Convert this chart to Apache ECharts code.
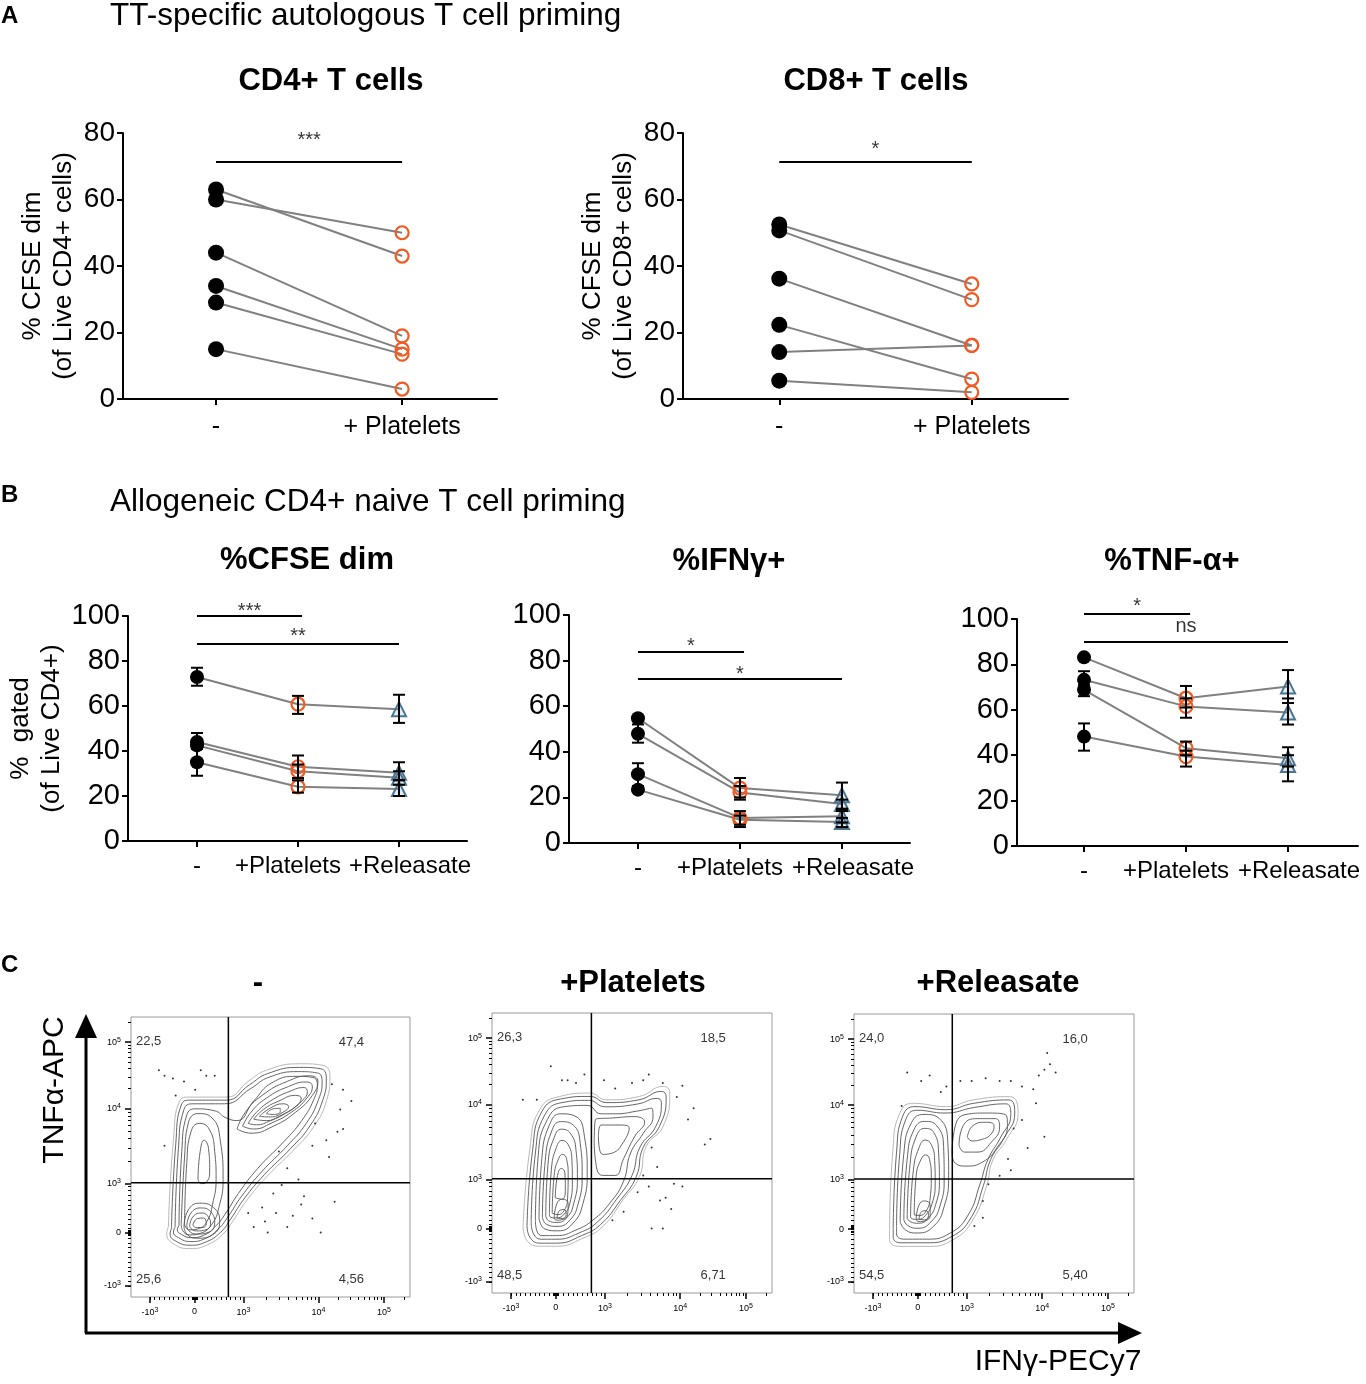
<!DOCTYPE html>
<html>
<head>
<meta charset="utf-8">
<script src="https://cdn.jsdelivr.net/npm/echarts@6/dist/echarts.min.js"></script>
<style>
    html, body {margin: 0; padding: 0; background: #fff;}
    #main {width: 1366px; height: 1384px;}
</style>
</head>
<body>
<div id="main"></div>
<script>
var FONT = 'Liberation Sans, Arial, Helvetica, sans-serif';
var ORANGE = '#f15a22';
var TEAL = '#4a7590';
var GRAY = '#808080';

// panel A: paired values (one entry per donor)
var catsA = ['-', '+ Platelets'];
var cd4Pre = [63, 60, 44, 34, 29, 15];
var cd4Post = [43, 50, 19, 15, 13.5, 3];
var cd8Pre = [52.5, 50.7, 36.2, 22.3, 14.1, 5.5];
var cd8Post = [34.6, 29.9, 16.1, 6, 16.1, 2];
var sigCd4 = [[0, 1, 71.3, '***', 79.4]];
var sigCd8 = [[0, 1, 71.3, '*', 76.4]];

// panel B: per donor [-, +Platelets, +Releasate], errors [low, high]
var catsB = ['-', '+Platelets', '+Releasate'];
var cfseVals = [[72.9, 60.8, 58.6], [44, 33, 30.3], [42.5, 31, 28.1], [35, 24.1, 23.1]];
var cfseErr = [[[69, 77], [56.5, 64.5], [52.5, 65]], [[41, 48], [28, 38], [27, 35]],
    [null, [28, 34], [25, 31]], [[29, 41], [21.5, 27], [20, 27]]];
var ifnVals = [[54.7, 24.1, 20.9], [47.9, 22.2, 17.1], [30.2, 11, 11.7], [23.4, 10.2, 9.2]];
var ifnErr = [[null, [20, 28.5], [15, 26.5]], [[44, 52], [19, 25], [15, 19]],
    [[25, 35], [8, 14], [9, 14]], [null, [7, 12], [7, 11]]];
var tnfVals = [[83.1, 65.1, 70.3], [73.2, 61.5, 58.8], [68.8, 43.1, 38.7], [48.2, 39.4, 35.7]];
var tnfErr = [[null, [61, 70.5], [63, 77.5]], [[69, 77], [56.5, 65], [53.5, 65]],
    [[66, 71], [40, 46], [35, 43.5]], [[42, 54], [35, 42], [28.5, 40]]];
var sigCfse = [[0, 1.04, 100, '***', 104.4], [0, 2, 87.6, '**', 92.9]];
var sigIfn = [[0, 1.04, 83.8, '*', 88.6], [0, 2, 71.9, '*', 76.3]];
var sigTnf = [[0, 1.04, 102.2, '*', 107.5], [0, 2, 89.9, 'ns', 96]];

// panel C: flow plots, coordinates in display channels 0..1000
var flowTitles = ['-', '+Platelets', '+Releasate'];
var flowTickLabels = ['-10', '0', '10', '10', '10'];
var flowTickExp = ['3', '', '3', '4', '5'];
var flowXTickPos = [68, 228, 403, 672, 907];
var flowYTickPos = [40, 229, 405, 673, 910];
var flowGate = [[349, 408], [355, 408], [351, 409]];
var flowQuad = [['22,5', '47,4', '25,6', '4,56'], ['26,3', '18,5', '48,5', '6,71'], ['24,0', '16,0', '54,5', '5,40']];

var rings1 = [
    [[134, 250], [152, 560], [176, 702], [211, 714], [343, 714], [420, 770], [486, 810], [606, 833], [689, 827], [713, 786], [701, 702], [654, 607], [582, 524], [486, 429], [415, 345], [367, 274], [331, 226], [271, 185], [211, 173], [152, 190], [128, 226]],
    [[145, 245], [160, 540], [182, 690], [215, 703], [340, 703], [425, 758], [490, 798], [605, 820], [680, 815], [700, 780], [688, 705], [642, 612], [572, 530], [478, 437], [405, 350], [358, 280], [322, 232], [265, 195], [212, 185], [160, 200], [140, 225]],
    [[158, 250], [170, 530], [190, 670], [222, 690], [335, 690], [430, 745], [495, 785], [600, 805], [668, 800], [685, 770], [672, 705], [628, 620], [560, 540], [468, 447], [395, 358], [350, 290], [312, 242], [262, 207], [214, 198], [170, 212], [152, 232]],
    [[172, 255], [182, 520], [200, 650], [230, 672], [300, 665], [340, 640], [380, 630], [440, 700], [505, 765], [595, 788], [652, 784], [668, 757], [655, 705], [612, 630], [548, 555], [455, 460], [385, 370], [340, 300], [305, 255], [260, 220], [216, 212], [180, 224], [166, 240]],
    [[180, 260], [192, 500], [205, 620], [240, 655], [290, 640], [320, 560], [330, 420], [315, 320], [290, 260], [250, 228], [210, 222], [185, 238]],
    [[192, 262], [200, 480], [215, 590], [245, 620], [280, 600], [300, 520], [305, 420], [292, 330], [275, 275], [245, 245], [212, 240], [195, 250]],
    [[240, 420], [248, 520], [262, 560], [278, 530], [282, 450], [270, 410], [252, 405]],
    [[190, 252], [205, 310], [245, 335], [295, 320], [318, 270], [292, 222], [235, 210], [200, 225]],
    [[200, 255], [215, 300], [250, 318], [285, 305], [300, 265], [280, 232], [235, 225], [208, 236]],
    [[210, 256], [225, 290], [255, 300], [278, 285], [285, 260], [268, 240], [235, 236], [215, 244]],
    [[222, 258], [238, 280], [260, 282], [270, 262], [255, 248], [232, 248]],
    [[380, 600], [410, 660], [470, 720], [560, 770], [640, 790], [670, 770], [650, 720], [590, 660], [510, 610], [430, 585]],
    [[400, 610], [430, 660], [485, 710], [565, 752], [630, 768], [650, 752], [630, 710], [575, 660], [505, 622], [440, 600]],
    [[420, 620], [450, 660], [500, 700], [570, 735], [620, 748], [632, 733], [612, 700], [560, 660], [500, 630], [450, 615]],
    [[440, 635], [475, 670], [530, 700], [590, 720], [610, 710], [590, 680], [540, 650], [485, 630]],
    [[460, 645], [500, 675], [545, 690], [565, 680], [545, 660], [500, 643]],
    [[485, 655], [510, 672], [535, 674], [535, 662], [510, 652]]
];
var rings2 = [
    [[111, 238], [135, 512], [170, 655], [242, 702], [349, 714], [408, 690], [527, 702], [611, 738], [635, 714], [611, 595], [551, 524], [527, 417], [468, 333], [396, 238], [325, 196], [230, 167], [170, 167], [123, 190]],
    [[125, 240], [145, 510], [178, 648], [245, 693], [350, 702], [410, 680], [525, 690], [605, 720], [622, 700], [598, 595], [540, 520], [515, 415], [458, 330], [388, 245], [320, 205], [230, 178], [172, 178], [135, 200]],
    [[140, 250], [155, 500], [188, 635], [250, 680], [345, 688], [405, 665], [520, 675], [590, 695], [605, 680], [585, 595], [528, 520], [500, 420], [445, 335], [378, 255], [312, 215], [228, 192], [178, 192], [148, 212]],
    [[155, 258], [165, 490], [198, 620], [255, 665], [340, 670], [390, 640], [440, 640], [520, 650], [570, 660], [575, 630], [540, 570], [495, 500], [470, 400], [420, 320], [360, 260], [300, 225], [230, 205], [182, 205], [160, 222]],
    [[365, 540], [370, 620], [430, 625], [510, 630], [545, 610], [510, 560], [470, 480], [440, 420], [395, 420], [370, 470]],
    [[380, 560], [390, 600], [450, 600], [490, 590], [470, 540], [430, 500], [395, 495]],
    [[168, 265], [178, 480], [205, 600], [245, 640], [300, 630], [330, 560], [340, 430], [325, 320], [290, 250], [235, 222], [190, 228]],
    [[180, 270], [190, 470], [212, 575], [245, 612], [290, 600], [315, 535], [322, 420], [308, 320], [278, 260], [232, 238], [195, 245]],
    [[192, 275], [200, 460], [220, 550], [248, 585], [280, 570], [300, 510], [305, 410], [292, 320], [268, 270], [232, 252], [202, 258]],
    [[205, 280], [212, 440], [230, 520], [250, 545], [272, 530], [285, 480], [287, 400], [278, 320], [258, 282], [230, 268], [210, 270]],
    [[215, 285], [222, 420], [238, 480], [252, 495], [266, 480], [272, 420], [270, 340], [258, 295], [235, 280]],
    [[226, 340], [234, 420], [248, 445], [260, 430], [262, 370], [250, 335]],
    [[222, 265], [232, 320], [252, 335], [272, 320], [270, 280], [250, 262], [232, 260]],
    [[232, 268], [242, 295], [258, 298], [265, 280], [252, 266]]
];
var rings3 = [
    [[127, 227], [139, 513], [163, 644], [211, 680], [330, 668], [425, 692], [556, 704], [586, 644], [544, 549], [496, 477], [473, 382], [425, 263], [354, 191], [258, 167], [163, 167], [127, 191]],
    [[140, 235], [152, 505], [174, 634], [218, 668], [328, 657], [428, 680], [552, 692], [574, 645], [534, 552], [488, 478], [462, 385], [418, 270], [350, 203], [258, 180], [168, 180], [140, 200]],
    [[152, 242], [163, 495], [185, 622], [225, 655], [325, 645], [430, 665], [542, 678], [560, 640], [522, 555], [478, 478], [450, 390], [408, 280], [344, 215], [258, 193], [178, 193], [152, 212]],
    [[350, 500], [362, 600], [400, 640], [470, 645], [540, 640], [548, 600], [510, 520], [460, 470], [400, 455], [362, 465]],
    [[375, 530], [390, 600], [440, 625], [505, 625], [520, 595], [490, 540], [440, 505], [395, 505]],
    [[405, 560], [425, 600], [470, 612], [500, 600], [490, 570], [455, 550], [420, 545]],
    [[165, 255], [178, 500], [205, 610], [250, 640], [305, 625], [335, 540], [338, 420], [322, 310], [285, 240], [225, 215], [185, 225]],
    [[178, 262], [190, 480], [214, 585], [252, 615], [295, 600], [320, 525], [322, 410], [308, 315], [275, 255], [228, 232], [192, 242]],
    [[190, 268], [200, 460], [222, 560], [252, 590], [285, 575], [302, 505], [305, 400], [292, 318], [265, 268], [230, 250], [202, 255]],
    [[202, 272], [212, 440], [232, 520], [254, 548], [276, 532], [288, 475], [290, 395], [278, 318], [255, 278], [230, 264], [210, 265]],
    [[215, 280], [222, 420], [240, 480], [256, 495], [270, 478], [276, 415], [272, 340], [258, 295], [235, 278]],
    [[222, 262], [232, 315], [252, 330], [272, 315], [272, 278], [252, 258], [232, 256]],
    [[232, 265], [242, 292], [258, 295], [266, 278], [252, 262]]
];
var dots1 = [[100, 810], [120, 790], [250, 810], [270, 790], [190, 770], [300, 790], [150, 780], [120, 540], [230, 740], [160, 720],
    [720, 760], [760, 740], [750, 670], [790, 700], [740, 590], [700, 560], [650, 540], [560, 460], [600, 420], [540, 400],
    [510, 370], [470, 320], [520, 300], [580, 290], [610, 330], [650, 280], [560, 250], [440, 250], [490, 230], [680, 230],
    [760, 600], [660, 620], [710, 500], [730, 340], [620, 360], [530, 520], [420, 300], [480, 270]];
var dots2 = [[210, 810], [250, 760], [300, 750], [330, 780], [270, 760], [110, 690], [160, 690], [400, 760], [440, 730], [500, 750],
    [540, 760], [560, 780], [610, 750], [660, 700], [680, 740], [700, 620], [720, 660], [780, 550], [760, 530], [570, 520],
    [590, 450], [540, 420], [560, 380], [520, 360], [600, 330], [640, 300], [620, 340], [470, 290], [430, 260], [570, 230],
    [610, 230], [680, 380], [650, 390]];
var dots3 = [[190, 790], [240, 760], [270, 780], [310, 720], [170, 670], [330, 740], [380, 760], [420, 760], [470, 770], [520, 760],
    [560, 760], [600, 740], [640, 730], [660, 780], [690, 860], [700, 820], [680, 800], [720, 790], [650, 680], [600, 620],
    [570, 590], [680, 560], [550, 480], [520, 420], [480, 390], [460, 330], [560, 440], [620, 520], [460, 270], [430, 240]];
var flowRings = [rings1, rings2, rings3];
var flowDots = [dots1, dots2, dots3];

var grids = [], xAxes = [], yAxes = [], series = [];
var extraX = [];

function $each(arr, fn) {
    for (var i = 0; i < arr.length; i++) fn(arr[i], i);
}

function errorItem(params, api) {
    var x = api.value(0);
    var top = api.coord([x, api.value(2)]);
    var bot = api.coord([x, api.value(1)]);
    var w = 6;
    var st = {stroke: '#000', lineWidth: 2};
    return {
        type: 'group',
        children: [
            {type: 'line', shape: {x1: top[0], y1: top[1], x2: bot[0], y2: bot[1]}, style: st},
            {type: 'line', shape: {x1: top[0] - w, y1: top[1], x2: top[0] + w, y2: top[1]}, style: st},
            {type: 'line', shape: {x1: bot[0] - w, y1: bot[1], x2: bot[0] + w, y2: bot[1]}, style: st}
        ]
    };
}

function addSig(idx, sig, fontSize) {
    $each(sig, function (s) {
        series.push({
            type: 'line', xAxisIndex: idx, yAxisIndex: idx, silent: true, symbol: 'none', z: 5, clip: false,
            lineStyle: {color: '#000', width: 2},
            data: [[s[0], s[2]], [s[1], s[2]]]
        });
        series.push({
            type: 'scatter', xAxisIndex: idx, yAxisIndex: idx, silent: true, symbolSize: 0, z: 5, clip: false,
            label: {
                show: true, position: 'inside', formatter: s[3], color: '#000',
                fontFamily: FONT, fontSize: fontSize, offset: [0, s[3].indexOf('*') >= 0 ? 5 : -2]
            },
            data: [[(s[0] + s[1]) / 2, s[4]]]
        });
    });
}

function xAxisFor(idx, xMin, xMax, cats, vals, xFont, xMargin, withLine) {
    return {
        gridIndex: idx, type: 'value', min: xMin, max: xMax, position: 'bottom', offset: 0,
        axisLine: {show: withLine, onZero: false, lineStyle: {color: '#000', width: 2}},
        axisTick: {show: withLine, customValues: vals, length: 6, lineStyle: {color: '#000', width: 2}},
        axisLabel: {
            customValues: vals, color: '#000', fontFamily: FONT, fontSize: xFont, margin: xMargin,
            hideOverlap: false, showMinLabel: true, showMaxLabel: true,
            formatter: function (v) { return cats[Math.round(v)]; }
        },
        splitLine: {show: false}
    };
}

function addAxes(box, xMin, xMax, yMax, cats, yName, nameGap, yFont, xFont, xMargin) {
    var idx = grids.length;
    grids.push({left: box[0], top: box[1], width: box[2], height: box[3]});
    if (cats.length > 2) {
        // middle label on its own axis so the tight labels are not dropped;
        // the two right labels are nudged apart as in the original figure
        var main = xAxisFor(idx, xMin, xMax, cats, [0, 2], xFont, xMargin, true);
        main.axisTick.customValues = [0, 1, 2];
        main.axisLabel.formatter = function (v) {
            return v > 1.5 ? '{r|' + cats[2] + '}' : cats[Math.round(v)];
        };
        main.axisLabel.rich = {r: {fontFamily: FONT, fontSize: xFont, color: '#000', padding: [0, 0, 0, 22]}};
        xAxes.push(main);
        var mid = xAxisFor(idx, xMin, xMax, cats, [1], xFont, xMargin, false);
        mid.axisLabel.formatter = function (v) { return '{m|' + cats[1] + '}'; };
        mid.axisLabel.rich = {m: {fontFamily: FONT, fontSize: xFont, color: '#000', padding: [0, 20, 0, 0]}};
        extraX.push(mid);
    } else {
        xAxes.push(xAxisFor(idx, xMin, xMax, cats, [0, 1], xFont, xMargin, true));
    }
    yAxes.push({
        gridIndex: idx, type: 'value', min: 0, max: yMax, interval: 20,
        name: yName, nameLocation: 'middle', nameGap: nameGap, nameRotate: 90,
        nameTextStyle: {color: '#000', fontFamily: FONT, fontSize: 26, lineHeight: 31},
        axisLine: {show: true, onZero: false, lineStyle: {color: '#000', width: 2}},
        axisTick: {show: true, length: 6, lineStyle: {color: '#000', width: 2}},
        axisLabel: {color: '#000', fontFamily: FONT, fontSize: yFont, margin: 8},
        splitLine: {show: false}
    });
    return idx;
}

function addPaired(idx, pre, post) {
    $each(pre, function (v, i) {
        series.push({
            type: 'line', xAxisIndex: idx, yAxisIndex: idx, silent: true, symbol: 'none', z: 2,
            lineStyle: {color: GRAY, width: 2}, data: [[0, v], [1, post[i]]]
        });
    });
    series.push({
        type: 'scatter', xAxisIndex: idx, yAxisIndex: idx, symbol: 'circle', symbolSize: 16, z: 3,
        itemStyle: {color: '#000', opacity: 1}, data: pre.map(function (v) { return [0, v]; })
    });
    series.push({
        type: 'scatter', xAxisIndex: idx, yAxisIndex: idx, symbol: 'circle', symbolSize: 13, z: 3,
        itemStyle: {color: 'rgba(255,255,255,0)', borderColor: ORANGE, borderWidth: 2.2, opacity: 1},
        data: post.map(function (v) { return [1, v]; })
    });
}

function addTriple(idx, vals, errs) {
    var styles = [
        {symbol: 'circle', symbolSize: 14, itemStyle: {color: '#000', opacity: 1}},
        {symbol: 'circle', symbolSize: 13, itemStyle: {color: 'rgba(255,255,255,0)', borderColor: ORANGE, borderWidth: 2.2, opacity: 1}},
        {symbol: 'triangle', symbolSize: 14, itemStyle: {color: 'rgba(74,117,144,0.15)', borderColor: TEAL, borderWidth: 2, opacity: 1}}
    ];
    var errData = [];
    $each(vals, function (row, i) {
        series.push({
            type: 'line', xAxisIndex: idx, yAxisIndex: idx, silent: true, symbol: 'none', z: 2,
            lineStyle: {color: GRAY, width: 2}, data: row.map(function (v, k) { return [k, v]; })
        });
        $each(errs[i], function (e, k) {
            if (e) errData.push([k, e[0], e[1]]);
        });
    });
    $each(styles, function (st, k) {
        series.push({
            type: 'scatter', xAxisIndex: idx, yAxisIndex: idx, z: 3,
            symbol: st.symbol, symbolSize: st.symbolSize, itemStyle: st.itemStyle,
            data: vals.map(function (row) { return [k, row[k]]; })
        });
    });
    series.push({
        type: 'custom', xAxisIndex: idx, yAxisIndex: idx, z: 4, silent: true,
        renderItem: errorItem, encode: {x: 0, y: [1, 2]}, data: errData
    });
}

// panel A
var a1 = addAxes([123, 133, 374, 266], -0.5, 1.51, 80, catsA, '% CFSE dim\n(of Live CD4+ cells)', 44, 28, 25, 16);
addPaired(a1, cd4Pre, cd4Post);
addSig(a1, sigCd4, 20);
var a2 = addAxes([683, 133, 385, 266], -0.5, 1.5, 80, catsA, '% CFSE dim\n(of Live CD8+ cells)', 44, 28, 25, 16);
addPaired(a2, cd8Pre, cd8Post);
addSig(a2, sigCd8, 20);

// panel B
var b1 = addAxes([128, 616, 339, 225], -0.683, 2.673, 100, catsB, '%  gated\n(of Live CD4+)', 45, 29, 24, 13);
addTriple(b1, cfseVals, cfseErr);
addSig(b1, sigCfse, 20);
var b2 = addAxes([569, 615, 341, 228], -0.676, 2.667, 100, catsB, '', 50, 29, 24, 13);
addTriple(b2, ifnVals, ifnErr);
addSig(b2, sigIfn, 20);
var b3 = addAxes([1017, 619, 341, 227], -0.657, 2.686, 100, catsB, '', 50, 29, 24, 13);
addTriple(b3, tnfVals, tnfErr);
addSig(b3, sigTnf, 20);

// panel C
var flowBoxes = [[131, 1017, 279, 280], [492, 1013, 280, 280], [854, 1014, 280, 279]];

function minorTicks(pos) {
    var out = [];
    for (var t = pos[0]; t <= pos[2]; t += 17) out.push(t);
    for (var d = -10; d <= 10; d += 4) out.push(pos[1] + d);
    for (var j = 2; j < 4; j++) {
        for (var k = 2; k < 10; k++) out.push(pos[j] + (pos[j + 1] - pos[j]) * Math.log10(k));
    }
    for (var m = 2; m < 4; m++) out.push(pos[4] + (pos[4] - pos[3]) * Math.log10(m));
    return out;
}

function flowLabel(pos) {
    return function (v) {
        for (var i = 0; i < pos.length; i++) {
            if (Math.abs(pos[i] - v) < 0.5) {
                return flowTickExp[i] ? '{b|' + flowTickLabels[i] + '}{s|' + flowTickExp[i] + '}' : '{b|0}';
            }
        }
        return '';
    };
}

var flowRich = {
    b: {fontSize: 9, fontFamily: FONT, color: '#000'},
    s: {fontSize: 7, fontFamily: FONT, color: '#000', verticalAlign: 'top', padding: [0, 0, 5, 0]}
};

$each(flowBoxes, function (box, f) {
    var idx = grids.length;
    grids.push({left: box[0], top: box[1], width: box[2], height: box[3], show: true,
        borderColor: '#9a9a9a', borderWidth: 1, backgroundColor: 'rgba(0,0,0,0)'});
    var minorIdx = idx + 1;
    grids.push({left: box[0], top: box[1], width: box[2], height: box[3]});
    xAxes.push({
        gridIndex: idx, type: 'value', min: 0, max: 1000,
        axisLine: {show: false}, splitLine: {show: false},
        axisTick: {show: true, customValues: flowXTickPos, length: 6, lineStyle: {color: '#000', width: 1.5}},
        axisLabel: {customValues: flowXTickPos, formatter: flowLabel(flowXTickPos), rich: flowRich, margin: 10}
    });
    yAxes.push({
        gridIndex: idx, type: 'value', min: 0, max: 1000,
        axisLine: {show: false}, splitLine: {show: false},
        axisTick: {show: true, customValues: flowYTickPos, length: 6, lineStyle: {color: '#000', width: 1.5}},
        axisLabel: {customValues: flowYTickPos, formatter: flowLabel(flowYTickPos), rich: flowRich, margin: 10}
    });
    xAxes.push({
        gridIndex: minorIdx, type: 'value', min: 0, max: 1000,
        axisLine: {show: false}, splitLine: {show: false}, axisLabel: {show: false},
        axisTick: {show: true, customValues: minorTicks(flowXTickPos), length: 3, lineStyle: {color: '#000', width: 1}}
    });
    yAxes.push({
        gridIndex: minorIdx, type: 'value', min: 0, max: 1000,
        axisLine: {show: false}, splitLine: {show: false}, axisLabel: {show: false},
        axisTick: {show: true, customValues: minorTicks(flowYTickPos), length: 3, lineStyle: {color: '#000', width: 1}}
    });

    $each(flowRings[f], function (ring, r) {
        series.push({
            type: 'line', xAxisIndex: idx, yAxisIndex: idx, silent: true, symbol: 'none', smooth: 0.5, z: 2,
            lineStyle: {color: r === 0 ? '#b0b0b0' : '#555', width: 0.9},
            data: ring.concat([ring[0]])
        });
    });
    series.push({
        type: 'scatter', xAxisIndex: idx, yAxisIndex: idx, silent: true, symbolSize: 2, z: 2,
        itemStyle: {color: '#333', opacity: 1}, data: flowDots[f]
    });
    var g = flowGate[f];
    series.push({
        type: 'line', xAxisIndex: idx, yAxisIndex: idx, silent: true, symbol: 'none', z: 4,
        lineStyle: {color: '#000', width: 1.5}, data: [[g[0], 0], [g[0], 1000]]
    });
    series.push({
        type: 'line', xAxisIndex: idx, yAxisIndex: idx, silent: true, symbol: 'none', z: 4,
        lineStyle: {color: '#000', width: 1.5}, data: [[0, g[1]], [1000, g[1]]]
    });
    var q = flowQuad[f];
    var qPos = [[18, 913, 'left'], [790, 908, 'center'], [18, 63, 'left'], [790, 63, 'center']];
    series.push({
        type: 'scatter', xAxisIndex: idx, yAxisIndex: idx, silent: true, symbolSize: 0, z: 5,
        data: qPos.map(function (p, i) {
            return {value: [p[0], p[1]], label: {show: true, position: 'inside', align: p[2], formatter: q[i],
                color: '#000', fontFamily: FONT, fontSize: 13}};
        })
    });
});

function txt(x, y, text, size, bold, align, rot) {
    return {
        type: 'text', x: x, y: y, rotation: rot || 0, silent: true,
        style: {
            text: text, fill: '#000', fontFamily: FONT, fontSize: size,
            fontWeight: bold ? 'bold' : 'normal', align: align || 'center', verticalAlign: 'middle'
        }
    };
}

var graphics = [
    txt(1, 16, 'A', 24, true, 'left'),
    txt(110, 16, 'TT-specific autologous T cell priming', 31.5, false, 'left'),
    txt(331, 81, 'CD4+ T cells', 31, true),
    txt(876, 81, 'CD8+ T cells', 31, true),
    txt(1, 495, 'B', 24, true, 'left'),
    txt(110, 502, 'Allogeneic CD4+ naive T cell priming', 31.5, false, 'left'),
    txt(307, 560, '%CFSE dim', 31, true),
    txt(729, 561, '%IFNγ+', 31, true),
    txt(1172, 561, '%TNF-α+', 31, true),
    txt(1, 965, 'C', 24, true, 'left'),
    txt(258, 983, flowTitles[0], 31, true),
    txt(633, 983, flowTitles[1], 31, true),
    txt(998, 983, flowTitles[2], 31, true),
    txt(55, 1090, 'TNFα-APC', 30, false, 'center', Math.PI / 2),
    txt(1058, 1362, 'IFNγ-PECy7', 30, false),
    {type: 'line', silent: true, shape: {x1: 86, y1: 1333, x2: 86, y2: 1036}, style: {stroke: '#000', lineWidth: 3}},
    {type: 'polygon', silent: true, shape: {points: [[75, 1038], [97, 1038], [86, 1014]]}, style: {fill: '#000'}},
    {type: 'line', silent: true, shape: {x1: 85, y1: 1333, x2: 1120, y2: 1333}, style: {stroke: '#000', lineWidth: 3}},
    {type: 'polygon', silent: true, shape: {points: [[1118, 1322], [1118, 1344], [1142, 1333]]}, style: {fill: '#000'}}
];

var myChart = echarts.init(document.getElementById('main'));
var option = {
    backgroundColor: '#fff',
    animation: false,
    grid: grids,
    xAxis: xAxes.concat(extraX),
    yAxis: yAxes,
    series: series,
    graphic: graphics
};
myChart.setOption(option);
</script>
</body>
</html>
